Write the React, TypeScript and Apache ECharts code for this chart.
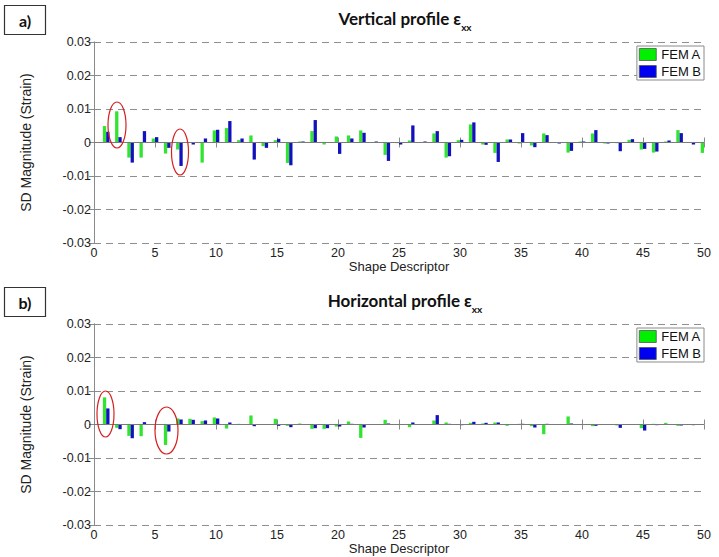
import React, { useEffect, useRef } from "react";
import * as echarts from "echarts";

const descriptors = [
  1, 2, 3, 4, 5, 6, 7, 8, 9, 10, 11, 12, 13, 14, 15, 16, 17, 18, 19, 20, 21, 22, 23, 24, 25,
  26, 27, 28, 29, 30, 31, 32, 33, 34, 35, 36, 37, 38, 39, 40, 41, 42, 43, 44, 45, 46, 47, 48, 49, 50,
];

const verticalFemA = [
  0.0049, 0.0093, -0.0045, -0.0045, 0.0012, -0.0033, -0.0021, 0.0, -0.006, 0.0036,
  0.0043, 0.0007, 0.0021, -0.0011, 0.0007, -0.0061, 0.0003, 0.0034, -0.0006, 0.0018,
  0.0021, 0.0036, 0.0, -0.0037, -0.0002, 0.0006, 0.0, 0.0027, -0.0045, 0.0007,
  0.0054, -0.0006, -0.0031, 0.0009, -0.0003, -0.0009, 0.0027, 0.0, -0.003, 0.0003,
  0.0027, -0.0003, -0.0002, 0.0008, -0.0021, -0.003, 0.0003, 0.0037, 0.0001, -0.0031,
];
const verticalFemB = [
  0.0032, 0.0016, -0.006, 0.0034, 0.0016, -0.0016, -0.007, -0.0006, 0.0012, 0.0038,
  0.0064, 0.0012, -0.0051, -0.0016, 0.0011, -0.0068, 0.0003, 0.0067, 0.0, -0.0034,
  0.0012, 0.0029, 0.0003, -0.0055, -0.0006, 0.0051, 0.0003, 0.0034, -0.0041, 0.0008,
  0.006, -0.0007, -0.0058, 0.0009, 0.0028, -0.0014, 0.0022, -0.0003, -0.0025, 0.0003,
  0.0037, -0.0003, -0.0026, 0.001, -0.0019, -0.0027, 0.0006, 0.0028, -0.0006, null,
];
const horizontalFemA = [
  0.0081, -0.001, -0.0034, -0.0035, 0.0, -0.0061, 0.0018, 0.0017, 0.001, 0.0021,
  -0.0012, 0.0002, 0.0027, 0.0001, 0.0017, -0.0004, 0.0003, -0.0013, -0.0013, -0.0006,
  0.0009, -0.004, 0.0, 0.0014, 0.0001, -0.0008, 0.0001, 0.0012, 0.0006, 0.0,
  0.0005, 0.0003, 0.0006, -0.0004, 0.0002, -0.0005, -0.0029, 0.0001, 0.0024, 0.0001,
  -0.0005, 0.0001, -0.0003, 0.0001, -0.0011, 0.0002, 0.0005, -0.0004, 0.0001, 0.0,
];
const horizontalFemB = [
  0.0048, -0.0014, -0.0041, 0.0007, 0.0, -0.0021, 0.0015, 0.0014, 0.0012, 0.0018,
  0.0006, 0.0001, -0.0005, 0.0, -0.0004, -0.0008, 0.0, -0.0011, -0.0011, -0.0006,
  0.0002, -0.0009, 0.0, 0.0003, 0.0, 0.0006, 0.0, 0.0028, 0.0002, -0.0002,
  0.0008, 0.0005, 0.0006, 0.0, 0.0002, -0.0009, 0.0002, 0.0, 0.0003, 0.0,
  -0.0004, 0.0, -0.001, 0.0, -0.0018, -0.0002, 0.0, -0.0003, -0.0002, null,
];

const seriesNames = ["FEM A", "FEM B"];
const panelLabels = ["a)", "b)"];
const panelTitles = ["Vertical profile ε", "Horizontal profile ε"];
const titleSubscript = "xx";
const xAxisName = "Shape Descriptor";
const yAxisName = "SD Magnitude (Strain)";

const GREEN = "#30e430";
const BLUE = "#1212bc";
const LABEL_FONT = "Liberation Sans, Arial, sans-serif";
const TITLE_FONT = "Lato, Calibri, sans-serif";

export default function App() {
  const ref = useRef<HTMLDivElement>(null);

  useEffect(() => {
    if (!ref.current) return;
    const chart = echarts.init(ref.current, undefined, { renderer: "svg" });

    const gridTops = [42, 324];
    const gridH = 201;
    const grids = gridTops.map((t) => ({ left: 94, top: t, width: 610, height: gridH, show: false }));

    const xAxes: any[] = [];
    const yAxes: any[] = [];
    gridTops.forEach((_, g) => {
      xAxes.push({
        type: "value",
        gridIndex: g,
        position: "bottom",
        min: 0,
        max: 50,
        interval: 5,
        name: xAxisName,
        nameLocation: "middle",
        nameGap: 13,
        nameTextStyle: { fontFamily: LABEL_FONT, fontSize: 13, color: "#222" },
        axisLine: { show: true, lineStyle: { color: "#8a8a8a", width: 1 } },
        axisTick: { show: true, inside: true, length: 5, lineStyle: { color: "#8a8a8a" } },
        axisLabel: { fontFamily: LABEL_FONT, fontSize: 12.5, color: "#222", margin: 3 },
        splitLine: { show: false },
      });
      xAxes.push({
        type: "value",
        gridIndex: g,
        position: "top",
        min: 0,
        max: 50,
        interval: 5,
        axisLine: { show: false },
        axisTick: { show: true, inside: true, length: 5, lineStyle: { color: "#8a8a8a" } },
        axisLabel: { show: false },
        splitLine: { show: false },
      });
      yAxes.push({
        type: "value",
        gridIndex: g,
        position: "left",
        min: -0.03,
        max: 0.03,
        interval: 0.01,
        name: yAxisName,
        nameLocation: "middle",
        nameGap: 61,
        nameRotate: 90,
        nameTextStyle: { fontFamily: LABEL_FONT, fontSize: 14, color: "#222" },
        axisLine: { show: true, lineStyle: { color: "#8a8a8a", width: 1 } },
        axisTick: { show: true, inside: true, length: 5, lineStyle: { color: "#8a8a8a" } },
        axisLabel: {
          fontFamily: LABEL_FONT,
          fontSize: 12.5,
          color: "#222",
          margin: 3,
          formatter: (v: number) => String(Number(v.toFixed(2))),
        },
        splitLine: { show: true, lineStyle: { color: "#8f8f8f", type: [7, 5], width: 1 } },
      });
      yAxes.push({
        type: "value",
        gridIndex: g,
        position: "right",
        min: -0.03,
        max: 0.03,
        interval: 0.01,
        axisLine: { show: true, lineStyle: { color: "#8a8a8a", width: 1 } },
        axisTick: { show: true, inside: true, length: 5, lineStyle: { color: "#8a8a8a" } },
        axisLabel: { show: false },
        splitLine: { show: false },
      });
    });

    const makeBar = (name: string, values: (number | null)[], g: number, color: string, zeroLine: boolean) => ({
      type: "bar",
      name,
      xAxisIndex: g * 2,
      yAxisIndex: g * 2,
      barWidth: 3.3,
      barGap: "0%",
      clip: true,
      silent: true,
      itemStyle: { color },
      data: descriptors.map((d, i) => [d, values[i]]),
      markLine: zeroLine
        ? {
            silent: true,
            symbol: ["none", "none"],
            label: { show: false },
            lineStyle: { color: "#7a7a7a", type: "solid", width: 1 },
            data: [{ yAxis: 0 }],
          }
        : undefined,
    });

    const series = [
      makeBar(seriesNames[0], verticalFemA, 0, GREEN, true),
      makeBar(seriesNames[1], verticalFemB, 0, BLUE, false),
      makeBar(seriesNames[0], horizontalFemA, 1, GREEN, true),
      makeBar(seriesNames[1], horizontalFemB, 1, BLUE, false),
    ];

    const legendData = [
      { name: seriesNames[0], itemStyle: { color: "#00f000", borderColor: "#555", borderWidth: 0.8 } },
      { name: seriesNames[1], itemStyle: { color: "#0000f0", borderColor: "#555", borderWidth: 0.8 } },
    ];
    const legends = gridTops.map((t) => ({
      top: t + 4,
      right: 15,
      orient: "vertical",
      itemWidth: 17,
      itemHeight: 12,
      itemGap: 4,
      padding: [2, 3, 2, 2],
      backgroundColor: "#fff",
      borderColor: "#8a8a8a",
      borderWidth: 1,
      icon: "rect",
      selectedMode: false,
      textStyle: { fontFamily: LABEL_FONT, fontSize: 13, color: "#111" },
      data: legendData,
    }));

    const graphics: any[] = [];
    gridTops.forEach((t, g) => {
      const off = t - 42;
      graphics.push({
        type: "rect",
        shape: { x: 4.5, y: 5.5 + off, width: 41, height: 29 },
        style: { fill: "#fff", stroke: "#333", lineWidth: 1.2 },
      });
      graphics.push({
        type: "text",
        x: 25,
        y: 20 + off,
        style: {
          text: panelLabels[g],
          fontFamily: TITLE_FONT,
          fontWeight: "bold",
          fontSize: 16,
          fill: "#111",
          align: "center",
          verticalAlign: "middle",
        },
      });
      graphics.push({
        type: "text",
        x: 405,
        y: 21 + off,
        style: {
          text: "{t|" + panelTitles[g] + "}{s|" + titleSubscript + "}",
          align: "center",
          verticalAlign: "middle",
          rich: {
            t: { fontFamily: TITLE_FONT, fontWeight: "bold", fontSize: 17, fill: "#111", verticalAlign: "top", lineHeight: 22 },
            s: { fontFamily: TITLE_FONT, fontWeight: "bold", fontSize: 10, fill: "#111", verticalAlign: "bottom", lineHeight: 10 },
          },
        },
      });
    });
    const ellipses = [
      [117, 125, 9, 23],
      [180, 152, 8.5, 23],
      [105.5, 414, 8.5, 23],
      [166.5, 430.5, 11.5, 23.5],
    ];
    ellipses.forEach(([cx, cy, rx, ry]) => {
      graphics.push({
        type: "ellipse",
        shape: { cx, cy, rx, ry },
        z: 100,
        style: { fill: "none", stroke: "#d62020", lineWidth: 1.2 },
      });
    });

    chart.setOption({
      animation: false,
      backgroundColor: "#fff",
      grid: grids,
      xAxis: xAxes,
      yAxis: yAxes,
      legend: legends,
      series,
      graphic: graphics,
    });

    return () => chart.dispose();
  }, []);

  return <div ref={ref} style={{ position: "absolute", left: 0, top: 0, width: 719, height: 557 }} />;
}
